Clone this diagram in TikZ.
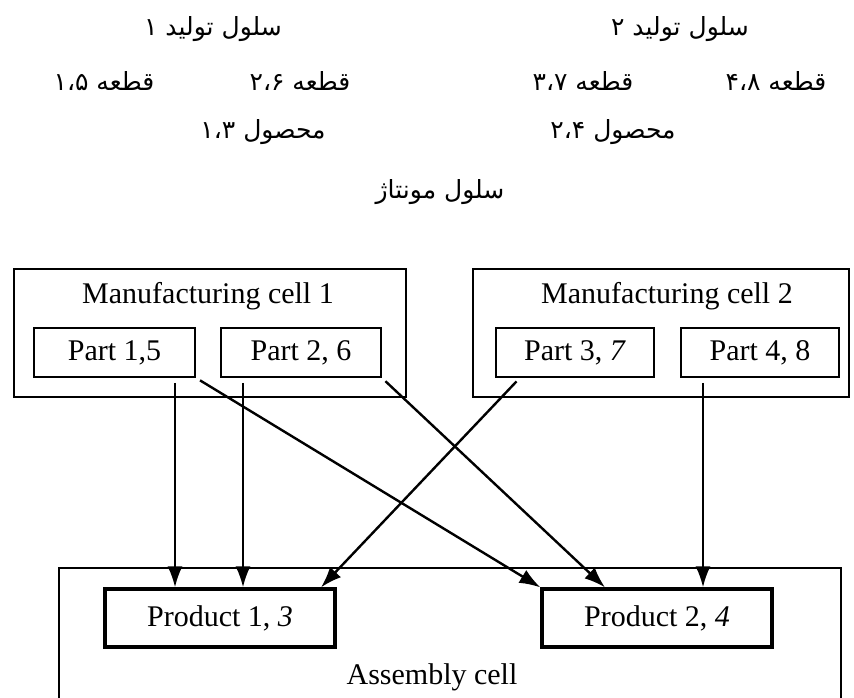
\documentclass[tikz,border=0pt]{standalone}
\usepackage{fontspec}
\setmainfont{Liberation Serif}
\newfontfamily\fa[Script=Arabic]{DejaVu Sans}
\TeXXeTstate=1
\usetikzlibrary{arrows.meta}

\begin{document}
\begin{tikzpicture}[x=1pt,y=-1pt,
  fatext/.style={inner sep=0pt, font=\fa\fontsize{25}{29}\selectfont},
  entext/.style={inner sep=0pt, font=\fontsize{30}{34}\selectfont},
  cellbox/.style={draw, line width=2.5pt, inner sep=0pt},
  partbox/.style={draw, line width=1.5pt, inner sep=0pt, minimum height=49pt,
                  font=\fontsize{30}{34}\selectfont},
  prodbox/.style={draw, line width=3.2pt, inner sep=0pt, minimum width=230pt,
                  minimum height=58pt, font=\fontsize{30}{34}\selectfont},
  arr/.style={line width=2.4pt, shorten <=5pt,
              -{Latex[length=21pt,width=15pt]}},
]
\useasboundingbox (0,0) rectangle (854,698);

% Persian captions
\node[fatext] (fc1) at (213,29) {\beginR سلول تولید ۱\endR};
\node[fatext] (fc2) at (680,29) {\beginR سلول تولید ۲\endR};
\node[fatext] (fp15) at (104,81) {\beginR قطعه ۱،۵\endR};
\node[fatext] (fp26) at (300,81) {\beginR قطعه ۲،۶\endR};
\node[fatext] (fp37) at (583,81) {\beginR قطعه ۳،۷\endR};
\node[fatext] (fp48) at (776,81) {\beginR قطعه ۴،۸\endR};
\node[fatext] (fq13) at (263,132) {\beginR محصول ۱،۳\endR};
\node[fatext] (fq24) at (613,132) {\beginR محصول ۲،۴\endR};
\node[fatext] (fas) at (440,192) {\beginR سلول مونتاژ\endR};

% Manufacturing cells
\node[cellbox, minimum width=392pt, minimum height=128pt] (cell1) at (210,333) {};
\node[cellbox, minimum width=376pt, minimum height=128pt] (cell2) at (661,333) {};
\node[entext] (cell1t) at (208,296) {Manufacturing cell 1};
\node[entext] (cell2t) at (667,296) {Manufacturing cell 2};

% Parts
\node[partbox, minimum width=161pt] (p15) at (114.5,352.5) {Part 1,5};
\node[partbox, minimum width=160pt] (p26) at (301,352.5) {Part 2, 6};
\node[partbox, minimum width=158pt] (p37) at (575,352.5) {Part 3, \textit{7}};
\node[partbox, minimum width=158pt] (p48) at (760,352.5) {Part 4, 8};

% Assembly cell (runs past the lower edge)
\coordinate (asw) at (59,700);
\coordinate (anw) at (59,568);
\coordinate (ane) at (841,568);
\coordinate (ase) at (841,700);
\draw[line width=1.5pt] (asw) -- (anw) -- (ane) -- (ase);
\node[entext] (asmt) at (432,677) {Assembly cell};

% Products
\node[prodbox] (prod1) at (220,618) {Product 1, \textit{3}};
\node[prodbox] (prod2) at (657,618) {Product 2, \textit{4}};

% Flows
\coordinate (xa) at (175,0);
\coordinate (xb) at (243,0);
\coordinate (xc) at (520,0);
\coordinate (xd) at (321,0);
\coordinate (xe) at (605,0);
\coordinate (xf) at (703,0);
\draw[arr] (p15.south -| xa) -- (prod1.north -| xa);
\draw[arr] (p26.south -| xb) -- (prod1.north -| xb);
\draw[arr] (p37.south -| xc) -- (prod1.north -| xd);
\draw[arr] (p15.south east) -- (prod2.north west);
\draw[arr] (p26.south east) -- (prod2.north -| xe);
\draw[arr] (p48.south -| xf) -- (prod2.north -| xf);
\end{tikzpicture}
\end{document}
